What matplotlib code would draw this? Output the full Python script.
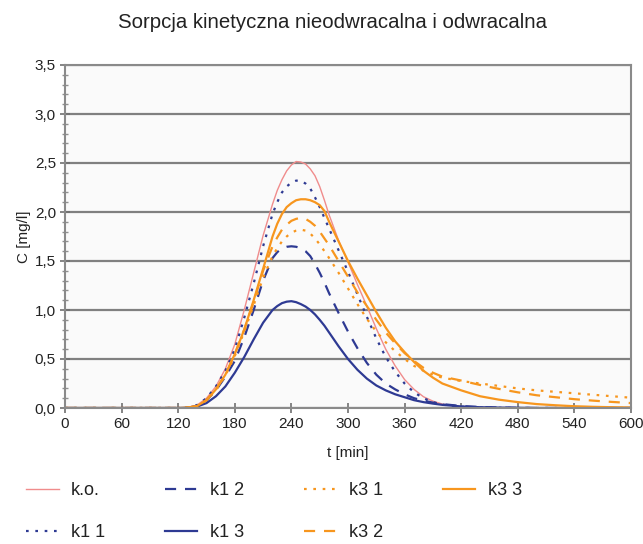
import matplotlib
matplotlib.use('Agg')
import matplotlib.pyplot as plt
from matplotlib.ticker import MultipleLocator, FuncFormatter

plt.rcParams['font.family'] = ['Liberation Sans', 'DejaVu Sans']

# time points [min]
t = [0, 60, 120, 130, 140, 150, 160, 170, 180, 190, 200, 210, 220, 225, 230, 235, 240, 245,
     250, 255, 260, 265, 270, 275, 280, 290, 300, 310, 320, 330, 340, 350, 360, 370, 380,
     390, 400, 420, 440, 460, 480, 500, 520, 540, 560, 580, 600]

ko = [0, 0, 0, 0.005, 0.03, 0.1, 0.22, 0.4, 0.65, 1.0, 1.38, 1.76, 2.08, 2.22, 2.33, 2.42, 2.48, 2.515,
      2.51, 2.49, 2.44, 2.37, 2.26, 2.12, 1.97, 1.71, 1.49, 1.26, 1.04, 0.81, 0.6, 0.43, 0.29, 0.19, 0.115,
      0.07, 0.04, 0.012, 0.004, 0.001, 0, 0, 0, 0, 0, 0, 0]
k1_1 = [0, 0, 0, 0.005, 0.03, 0.1, 0.22, 0.38, 0.6, 0.92, 1.27, 1.65, 1.98, 2.1, 2.2, 2.26, 2.3, 2.32,
        2.32, 2.29, 2.24, 2.15, 2.05, 1.94, 1.83, 1.61, 1.39, 1.16, 0.93, 0.71, 0.52, 0.37, 0.25, 0.16, 0.1,
        0.06, 0.035, 0.013, 0.005, 0.002, 0, 0, 0, 0, 0, 0, 0]
k1_2 = [0, 0, 0, 0.004, 0.02, 0.08, 0.18, 0.32, 0.48, 0.72, 1.0, 1.3, 1.53, 1.59, 1.63, 1.645, 1.65, 1.645,
        1.63, 1.6, 1.55, 1.47, 1.38, 1.28, 1.17, 0.97, 0.78, 0.61, 0.46, 0.34, 0.25, 0.19, 0.14, 0.1, 0.075,
        0.055, 0.04, 0.02, 0.01, 0.005, 0.002, 0, 0, 0, 0, 0, 0]
k1_3 = [0, 0, 0, 0.003, 0.015, 0.05, 0.12, 0.22, 0.36, 0.52, 0.7, 0.87, 1.0, 1.04, 1.07, 1.085, 1.09, 1.08,
        1.06, 1.035, 1.0, 0.955, 0.9, 0.84, 0.77, 0.63, 0.5, 0.39, 0.3, 0.23, 0.18, 0.14, 0.11, 0.08, 0.06,
        0.045, 0.032, 0.016, 0.008, 0.004, 0.002, 0, 0, 0, 0, 0, 0]
k3_1 = [0, 0, 0, 0.004, 0.02, 0.08, 0.18, 0.33, 0.53, 0.78, 1.05, 1.33, 1.55, 1.63, 1.7, 1.75, 1.79, 1.81,
        1.82, 1.81, 1.78, 1.73, 1.67, 1.6, 1.53, 1.38, 1.22, 1.06, 0.91, 0.78, 0.67, 0.58, 0.5, 0.43, 0.38,
        0.34, 0.31, 0.275, 0.25, 0.225, 0.2, 0.18, 0.165, 0.15, 0.135, 0.12, 0.105]
k3_2 = [0, 0, 0, 0.004, 0.02, 0.08, 0.19, 0.34, 0.55, 0.8, 1.08, 1.4, 1.65, 1.74, 1.82, 1.87, 1.91, 1.93,
        1.94, 1.93, 1.9, 1.86, 1.8, 1.73, 1.66, 1.5, 1.34, 1.18, 1.04, 0.9, 0.77, 0.66, 0.56, 0.48, 0.41,
        0.36, 0.32, 0.28, 0.235, 0.195, 0.16, 0.13, 0.11, 0.09, 0.075, 0.062, 0.05]
k3_3 = [0, 0, 0, 0.004, 0.02, 0.08, 0.19, 0.34, 0.55, 0.8, 1.1, 1.42, 1.75, 1.88, 1.98, 2.05, 2.09, 2.12,
        2.13, 2.13, 2.12, 2.1, 2.07, 2.01, 1.9, 1.7, 1.5, 1.32, 1.15, 0.98, 0.82, 0.68, 0.57, 0.47, 0.38,
        0.31, 0.25, 0.18, 0.12, 0.085, 0.06, 0.04, 0.028, 0.018, 0.012, 0.008, 0.005]

labels = ['k.o.', 'k1 1', 'k1 2', 'k1 3', 'k3 1', 'k3 2', 'k3 3']
xticks = [0, 60, 120, 180, 240, 300, 360, 420, 480, 540, 600]

SALMON = '#f08c8c'
BLUE = '#2e3a93'
ORANGE = '#f7961e'
DOT = (0, (1.2, 3.0))
DASH = (0, (5, 4))

series = [
    (ko, SALMON, '-', 1.0),
    (k1_1, BLUE, DOT, 1.6),
    (k1_2, BLUE, DASH, 1.6),
    (k1_3, BLUE, '-', 1.6),
    (k3_1, ORANGE, DOT, 1.6),
    (k3_2, ORANGE, DASH, 1.6),
    (k3_3, ORANGE, '-', 1.6),
]

fig = plt.figure(figsize=(6.43, 5.44), dpi=100)
ax = fig.add_axes([65 / 643, 1 - 408 / 544, 566 / 643, 343 / 544])
ax.set_facecolor('#fafafa')

for (y, c, ls, lw), lab in zip(series, labels):
    ax.plot(t, y, color=c, linestyle=ls, linewidth=lw, label=lab)

ax.set_xlim(0, 600)
ax.set_ylim(0, 3.5)
ax.set_xticks(xticks)
ax.yaxis.set_major_locator(MultipleLocator(0.5))
ax.yaxis.set_minor_locator(MultipleLocator(0.1))
ax.yaxis.set_major_formatter(FuncFormatter(lambda v, p: f'{v:.1f}'.replace('.', ',')))
ax.grid(axis='y', which='major', color='#808080', linewidth=1.6, zorder=0)
ax.set_axisbelow(True)

for s in ax.spines.values():
    s.set_color('#8a8a8a')
    s.set_linewidth(1.5)

ax.tick_params(axis='both', which='major', direction='inout', length=7, width=1.2,
               color='#707070', labelsize=11, labelcolor='#222222', pad=3)
ax.tick_params(axis='y', which='minor', direction='inout', length=4, width=1.0, color='#909090')

ax.set_xlabel('t [min]', fontsize=11, color='#222222', labelpad=11)
ax.set_ylabel('C [mg/l]', fontsize=11, color='#222222', labelpad=3)

fig.text(333 / 643, 1 - 23 / 544, 'Sorpcja kinetyczna nieodwracalna i odwracalna',
         ha='center', va='center', fontsize=14.7, color='#222222')

fig.legend(loc='upper left', bbox_to_anchor=(26 / 643, 1 - 482 / 544), ncol=4,
           frameon=False, fontsize=13, handlelength=1.8, handletextpad=0.7,
           columnspacing=3.3, labelspacing=1.4, borderpad=0, borderaxespad=0,
           labelcolor='#222222')

fig.savefig('out.png', dpi=100, facecolor='white')
